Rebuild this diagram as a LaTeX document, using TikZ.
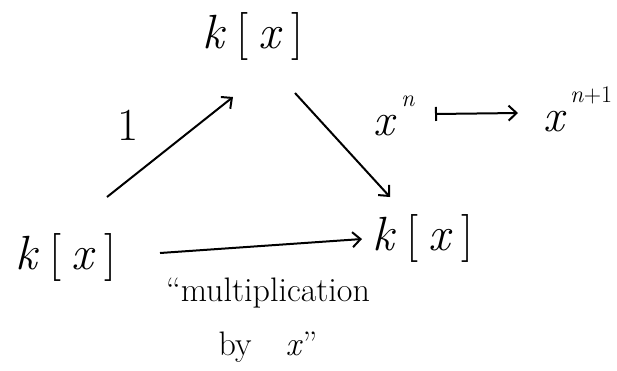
\documentclass[tikz,border=0pt]{standalone}
\usepackage{fontspec}
\setmainfont{Latin Modern Roman}
\usetikzlibrary{arrows.meta}
\newcommand{\myit}[1]{\textit{#1}}
\newcommand{\mysup}[1]{\raisebox{0.62em}{\fontsize{24}{28}\selectfont #1}}
\newcommand{\kx}{\myit{k}\hspace{0.22em}[\hspace{0.2em}\myit{x}\hspace{0.2em}]}
\begin{document}
\begin{tikzpicture}[x=1pt,y=-1pt,
  obj/.style={font=\fontsize{48}{54}\selectfont, inner sep=0pt},
  lab/.style={font=\fontsize{46}{52}\selectfont, inner sep=0pt},
  note/.style={font=\fontsize{34}{54}\selectfont, inner sep=0pt, align=center},
  arr/.style={line width=2pt, -{Straight Barb[length=8pt,width=15pt,line width=2pt]}},
  maparr/.style={line width=2pt, {Bar[width=14pt,line width=2pt]}-{Straight Barb[length=8pt,width=15pt,line width=2pt]}}
]
\useasboundingbox (0,0) rectangle (617,370);
% objects
\node[obj] (top) at (253,36) {\kx};
\node[obj] (bl)  at (66,257) {\kx};
\node[obj] (br)  at (423,238) {\kx};
% arrow endpoints
\coordinate (a1s) at (107,197);
\coordinate (a1e) at (233,97);
\coordinate (a2s) at (295,93);
\coordinate (a2e) at (390,197);
\coordinate (a3s) at (160,253);
\coordinate (a3e) at (362,239);
\coordinate (m1) at (435,114);
\coordinate (m2) at (518,113);
% arrows
\draw[arr] (a1s) -- (a1e);
\draw[arr] (a2s) -- (a2e);
\draw[arr] (a3s) -- (a3e);
\draw[maparr] (m1) -- (m2);
% labels
\node[lab] (one) at (128,125) {1};
\node[lab, anchor=base west] (xn) at (373,135) {\myit{x}\hspace{0.1em}\mysup{\myit{n}}};
\node[lab, anchor=base west] (xn1) at (543,131) {\myit{x}\hspace{0.08em}\mysup{\myit{n}+1}};
\node[note] (mult) at (268,320) {``multiplication\\ by\quad \myit{x}''};
\end{tikzpicture}
\end{document}
